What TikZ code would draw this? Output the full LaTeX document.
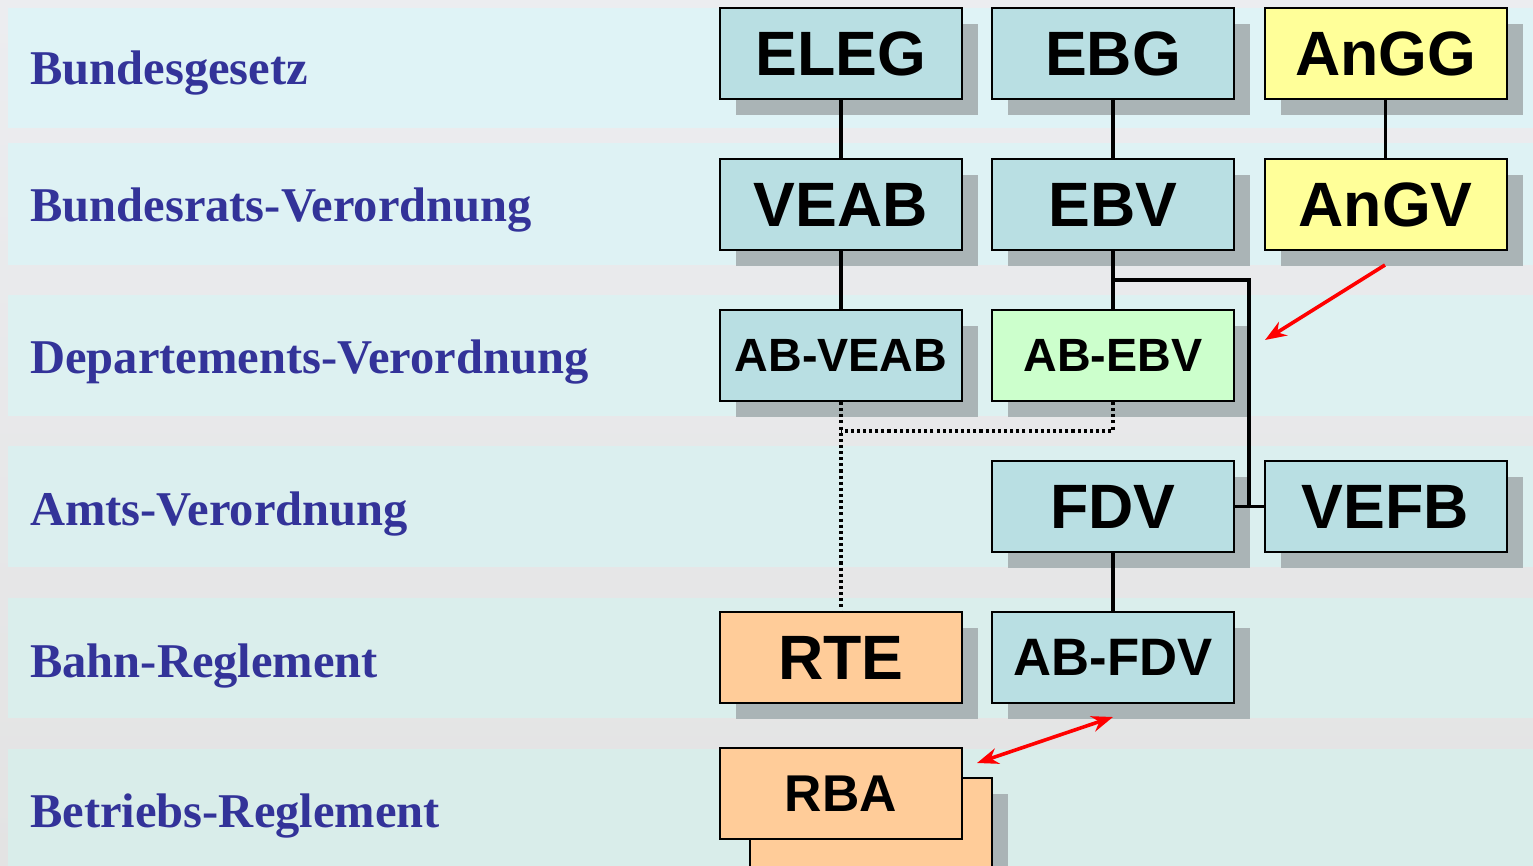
\documentclass[tikz,border=0pt]{standalone}
\usepackage{fontspec}
\setmainfont{Liberation Serif}
\newfontfamily\boxfont{Liberation Sans}
\usetikzlibrary{shadows,arrows.meta}
\definecolor{gapA}{HTML}{ECEDF0}
\definecolor{gapB}{HTML}{E3E3E3}
\definecolor{bandA}{HTML}{DFF3F6}
\definecolor{bandB}{HTML}{D9EDEA}
\definecolor{boxcyan}{HTML}{B9DFE3}
\definecolor{boxyellow}{HTML}{FFFF99}
\definecolor{boxgreen}{HTML}{CCFFCC}
\definecolor{boxorange}{HTML}{FFCC99}
\definecolor{shadowgrey}{HTML}{AAB4B6}
\definecolor{lblue}{HTML}{333399}
\tikzset{
  bxplain/.style={draw=black, line width=1.5pt, minimum width=181.5pt, minimum height=68.25pt, inner sep=0pt, font=\boxfont\bfseries\fontsize{47}{50}\selectfont},
  bx/.style={bxplain, drop shadow={shadow xshift=12pt, shadow yshift=-12pt, opacity=1, fill=shadowgrey}},
  midtext/.style={font=\boxfont\bfseries\fontsize{35}{40}\selectfont},
  lvl/.style={anchor=base west, inner sep=0pt, text=lblue, font=\bfseries\fontsize{36.4}{40}\selectfont},
  conn/.style={line width=2.6pt, draw=black},
  dotconn/.style={line width=2.8pt, draw=black, dash pattern=on 2.3pt off 2.3pt},
  redarrow/.style={line width=2.7pt, draw=red, -{Stealth[length=16pt,width=12pt]}},
  redboth/.style={line width=2.7pt, draw=red, {Stealth[length=16pt,width=12pt]}-{Stealth[length=16pt,width=12pt]}}
}
\begin{document}
\begin{tikzpicture}[x=0.75pt, y=-0.75pt]
\useasboundingbox (0,0) rectangle (1533,866);
\clip (0,0) rectangle (1533,866);
% background
\shade[top color=gapA, bottom color=gapB] (0,0) rectangle (1533,866);
\fill[bandA] (8,8) rectangle (1533,128);
\fill[bandA!80!bandB] (8,143) rectangle (1533,265);
\fill[bandA!60!bandB] (8,295) rectangle (1533,416);
\fill[bandA!40!bandB] (8,446) rectangle (1533,567);
\fill[bandA!20!bandB] (8,598) rectangle (1533,718);
\fill[bandB] (8,749) rectangle (1533,866);
% level labels
\node[lvl] (l1) at (30,85) {Bundesgesetz};
\node[lvl] (l2) at (30,222) {Bundesrats-Verordnung};
\node[lvl] (l3) at (30,373) {Departements-Verordnung};
\node[lvl] (l4) at (30,525) {Amts-Verordnung};
\node[lvl] (l5) at (30,677) {Bahn-Reglement};
\node[lvl] (l6) at (30,827) {Betriebs-Reglement};
% helper coordinates
\coordinate (br) at (1113,280);
\coordinate (brc) at (1249,280);
\coordinate (dj) at (1113,431);
% boxes
\node[bx, fill=boxcyan] (ELEG) at (841,53.5) {ELEG};
\node[bx, fill=boxcyan] (EBG) at (1113,53.5) {EBG};
\node[bx, fill=boxyellow] (AnGG) at (1385.5,53.5) {AnGG};
\node[bx, fill=boxcyan] (VEAB) at (841,204.5) {VEAB};
\node[bx, fill=boxcyan] (EBV) at (1113,204.5) {EBV};
\node[bx, fill=boxyellow] (AnGV) at (1385.5,204.5) {AnGV};
\node[bx, fill=boxcyan, midtext] (ABVEAB) at (841,355.5) {AB-VEAB};
\node[bx, fill=boxgreen, midtext] (ABEBV) at (1113,355.5) {AB-EBV};
\node[bx, fill=boxcyan] (FDV) at (1113,506.5) {FDV};
\node[bx, fill=boxcyan] (VEFB) at (1385.5,506.5) {VEFB};
\node[bx, fill=boxorange] (RTE) at (841,657.5) {RTE};
\node[bx, fill=boxcyan, font=\boxfont\bfseries\fontsize{39.5}{44}\selectfont] (ABFDV) at (1113,657.5) {AB-FDV};
\node[bx, fill=boxorange] (RBAback) at (871,823.5) {};
\node[bxplain, fill=boxorange, font=\boxfont\bfseries\fontsize{38.8}{44}\selectfont] (RBA) at (841,793.5) {RBA};
% solid connectors
\draw[conn] (ELEG) -- (VEAB);
\draw[conn] (EBG) -- (EBV);
\draw[conn] (AnGG) -- (AnGV);
\draw[conn] (VEAB) -- (ABVEAB);
\draw[conn] (EBV) -- (ABEBV);
\draw[conn] (br) -- (brc) -- (brc |- VEFB.west);
\draw[conn] (FDV) -- (VEFB);
\draw[conn] (FDV) -- (ABFDV);
% dotted connectors
\draw[dotconn] (ABVEAB) -- (RTE);
\draw[dotconn] (ABEBV) -- (dj) -- (dj -| ABVEAB);
% red arrows
\coordinate (a1s) at (1385,265);
\coordinate (a1e) at (1265,340);
\draw[redarrow] (a1s) -- (a1e);
\coordinate (a2s) at (1113,717);
\coordinate (a2e) at (977,763);
\draw[redboth] (a2e) -- (a2s);
\end{tikzpicture}
\end{document}
